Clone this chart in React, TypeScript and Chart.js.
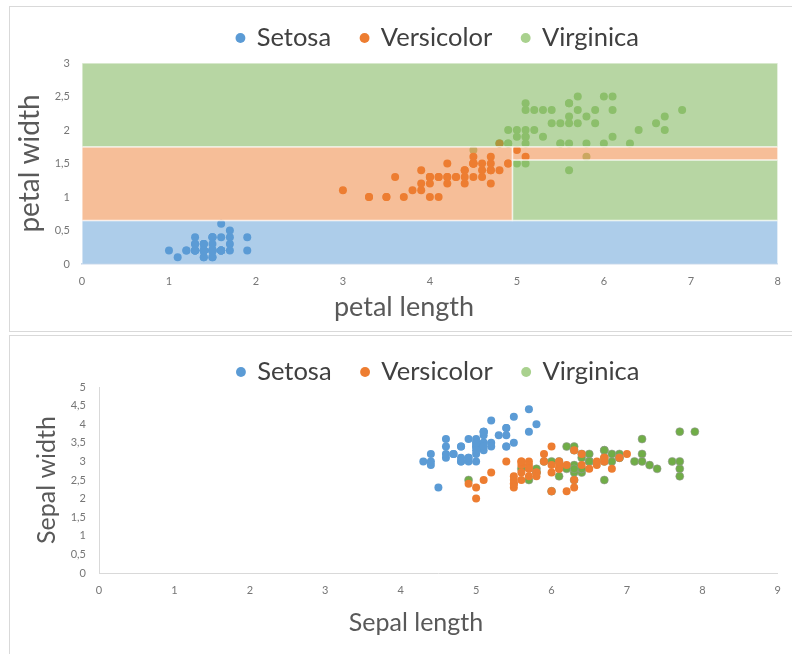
import React, { useEffect, useRef } from "react";
import { Chart, registerables } from "chart.js";
Chart.register(...registerables);

// ---------- data ----------
const speciesNames = ["Setosa", "Versicolor", "Virginica"];

const setosaSepalLength = [5.1,4.9,4.7,4.6,5.0,5.4,4.6,5.0,4.4,4.9,5.4,4.8,4.8,4.3,5.8,5.7,5.4,5.1,5.7,5.1,5.4,5.1,4.6,5.1,4.8,5.0,5.0,5.2,5.2,4.7,4.8,5.4,5.2,5.5,4.9,5.0,5.5,4.9,4.4,5.1,5.0,4.5,4.4,5.0,5.1,4.8,5.1,4.6,5.3,5.0];
const setosaSepalWidth = [3.5,3.0,3.2,3.1,3.6,3.9,3.4,3.4,2.9,3.1,3.7,3.4,3.0,3.0,4.0,4.4,3.9,3.5,3.8,3.8,3.4,3.7,3.6,3.3,3.4,3.0,3.4,3.5,3.4,3.2,3.1,3.4,4.1,4.2,3.1,3.2,3.5,3.6,3.0,3.4,3.5,2.3,3.2,3.5,3.8,3.0,3.8,3.2,3.7,3.3];
const setosaPetalLength = [1.4,1.4,1.3,1.5,1.4,1.7,1.4,1.5,1.4,1.5,1.5,1.6,1.4,1.1,1.2,1.5,1.3,1.4,1.7,1.5,1.7,1.5,1.0,1.7,1.9,1.6,1.6,1.5,1.4,1.6,1.6,1.5,1.5,1.4,1.5,1.2,1.3,1.4,1.3,1.5,1.3,1.3,1.3,1.6,1.9,1.4,1.6,1.4,1.5,1.4];
const setosaPetalWidth = [0.2,0.2,0.2,0.2,0.2,0.4,0.3,0.2,0.2,0.1,0.2,0.2,0.1,0.1,0.2,0.4,0.4,0.3,0.3,0.3,0.2,0.4,0.2,0.5,0.2,0.2,0.4,0.2,0.2,0.2,0.2,0.4,0.1,0.2,0.2,0.2,0.2,0.1,0.2,0.2,0.3,0.3,0.2,0.6,0.4,0.3,0.2,0.2,0.2,0.2];

const versicolorSepalLength = [7.0,6.4,6.9,5.5,6.5,5.7,6.3,4.9,6.6,5.2,5.0,5.9,6.0,6.1,5.6,6.7,5.6,5.8,6.2,5.6,5.9,6.1,6.3,6.1,6.4,6.6,6.8,6.7,6.0,5.7,5.5,5.5,5.8,6.0,5.4,6.0,6.7,6.3,5.6,5.5,5.5,6.1,5.8,5.0,5.6,5.7,5.7,6.2,5.1,5.7];
const versicolorSepalWidth = [3.2,3.2,3.1,2.3,2.8,2.8,3.3,2.4,2.9,2.7,2.0,3.0,2.2,2.9,2.9,3.1,3.0,2.7,2.2,2.5,3.2,2.8,2.5,2.8,2.9,3.0,2.8,3.0,2.9,2.6,2.4,2.4,2.7,2.7,3.0,3.4,3.1,2.3,3.0,2.5,2.6,3.0,2.6,2.3,2.7,3.0,2.9,2.9,2.5,2.8];
const versicolorPetalLength = [4.7,4.5,4.9,4.0,4.6,4.5,4.7,3.3,4.6,3.9,3.5,4.2,4.0,4.7,3.6,4.4,4.5,4.1,4.5,3.9,4.8,4.0,4.9,4.7,4.3,4.4,4.8,5.0,4.5,3.5,3.8,3.7,3.9,5.1,4.5,4.5,4.7,4.4,4.1,4.0,4.4,4.6,4.0,3.3,4.2,4.2,4.2,4.3,3.0,4.1];
const versicolorPetalWidth = [1.4,1.5,1.5,1.3,1.5,1.3,1.6,1.0,1.3,1.4,1.0,1.5,1.0,1.4,1.3,1.4,1.5,1.0,1.5,1.1,1.8,1.3,1.5,1.2,1.3,1.4,1.4,1.7,1.5,1.0,1.1,1.0,1.2,1.6,1.5,1.6,1.5,1.3,1.3,1.3,1.2,1.4,1.2,1.0,1.3,1.2,1.3,1.3,1.1,1.3];

const virginicaSepalLength = [6.3,5.8,7.1,6.3,6.5,7.6,4.9,7.3,6.7,7.2,6.5,6.4,6.8,5.7,5.8,6.4,6.5,7.7,7.7,6.0,6.9,5.6,7.7,6.3,6.7,7.2,6.2,6.1,6.4,7.2,7.4,7.9,6.4,6.3,6.1,7.7,6.3,6.4,6.0,6.9,6.7,6.9,5.8,6.8,6.7,6.7,6.3,6.5,6.2,5.9];
const virginicaSepalWidth = [3.3,2.7,3.0,2.9,3.0,3.0,2.5,2.9,2.5,3.6,3.2,2.7,3.0,2.5,2.8,3.2,3.0,3.8,2.6,2.2,3.2,2.8,2.8,2.7,3.3,3.2,2.8,3.0,2.8,3.0,2.8,3.8,2.8,2.8,2.6,3.0,3.4,3.1,3.0,3.1,3.1,3.1,2.7,3.2,3.3,3.0,2.5,3.0,3.4,3.0];
const virginicaPetalLength = [6.0,5.1,5.9,5.6,5.8,6.6,4.5,6.3,5.8,6.1,5.1,5.3,5.5,5.0,5.1,5.3,5.5,6.7,6.9,5.0,5.7,4.9,6.7,4.9,5.7,6.0,4.8,4.9,5.6,5.8,6.1,6.4,5.6,5.1,5.6,6.1,5.6,5.5,4.8,5.4,5.6,5.1,5.1,5.9,5.7,5.2,5.0,5.2,5.4,5.1];
const virginicaPetalWidth = [2.5,1.9,2.1,1.8,2.2,2.1,1.7,1.8,1.8,2.5,2.0,1.9,2.1,2.0,2.4,2.3,1.8,2.2,2.3,1.5,2.3,2.0,2.0,1.8,2.1,1.8,1.8,1.8,2.1,1.6,1.9,2.0,2.2,1.5,1.4,2.3,2.4,1.8,1.8,2.1,2.4,2.3,1.9,2.3,2.5,2.3,1.9,2.0,2.3,1.8];

// decision regions of the petal chart (data units) and the species each belongs to
const regionX0 = [0, 0, 4.95, 4.95, 0];
const regionX1 = [8, 4.95, 8, 8, 8];
const regionY0 = [0, 0.65, 1.55, 0.65, 1.75];
const regionY1 = [0.65, 1.75, 1.75, 1.55, 3];
const regionSpecies = [0, 1, 1, 2, 2];

const petalXTitle = "petal length";
const petalYTitle = "petal width";
const sepalXTitle = "Sepal length";
const sepalYTitle = "Sepal width";

// ---------- styles ----------
const FONT = "Lato, 'Open Sans', sans-serif";
const speciesColors = ["#5b9bd5", "#ed7d31", "#a9d18e"];
const sepalPointColors = ["#5b9bd5", "#ed7d31", "#70ad47"];
const regionColors = ["rgba(91,155,213,0.5)", "rgba(237,125,49,0.5)", "rgba(112,173,71,0.5)"];
const legendColors = ["#5b9bd5", "#ed7d31", "#a9d18e"];
const LEGEND_SIZE = 25.5;

const pts = (xs: number[], ys: number[]) => xs.map((x, i) => ({ x, y: ys[i] }));
const comma = (v: any) => String(v).replace(".", ",");

const regionPlugin = {
  id: "regions",
  afterDatasetsDraw(chart: any) {
    const { ctx, scales } = chart;
    const xs = scales.x, ys = scales.y;
    ctx.save();
    for (let i = 0; i < regionX0.length; i++) {
      const x0 = xs.getPixelForValue(regionX0[i]);
      const x1 = xs.getPixelForValue(regionX1[i]);
      const y0 = ys.getPixelForValue(regionY0[i]);
      const y1 = ys.getPixelForValue(regionY1[i]);
      ctx.fillStyle = regionColors[regionSpecies[i]];
      ctx.fillRect(x0, y1, x1 - x0, y0 - y1);
      ctx.strokeStyle = "rgba(255,255,255,0.6)";
      ctx.lineWidth = 1.5;
      ctx.strokeRect(x0, y1, x1 - x0, y0 - y1);
    }
    ctx.restore();
  },
};

// x-axis title, centred where the original centres it (not on the plot area)
const xTitlePlugin = (text: string, cx: number, cy: number, size: number) => ({
  id: "xTitle",
  afterDraw(chart: any) {
    const ctx = chart.ctx;
    ctx.save();
    ctx.font = `${size}px ${FONT}`;
    ctx.fillStyle = "#595959";
    ctx.textAlign = "center";
    ctx.textBaseline = "middle";
    ctx.fillText(text, cx, cy);
    ctx.restore();
  },
});

// tweak the legend box: extra height below it and a horizontal shift
const legendAdjust = (gap: number, dx: number) => ({
  id: "legendAdjust",
  beforeLayout(chart: any) {
    const lg = chart.legend;
    if (lg && !lg._gapPatched) {
      const orig = lg.fit;
      lg.fit = function () {
        orig.call(this);
        this.height += gap;
      };
      lg._gapPatched = true;
    }
  },
  afterLayout(chart: any) {
    const lg = chart.legend;
    if (lg) {
      lg.left += dx;
      lg.right += dx;
    }
  },
});

const legendOptions = (colors: string[]) => ({
  position: "top" as const,
  fullSize: false,
  labels: {
    usePointStyle: true,
    pointStyle: "circle",
    boxWidth: 7,
    boxHeight: 7,
    padding: 30,
    color: "#404040",
    font: { family: FONT, size: LEGEND_SIZE },
    generateLabels: (chart: any) => {
      const items = (Chart.defaults.plugins.legend.labels as any).generateLabels(chart);
      items.forEach((it: any, i: number) => {
        it.fillStyle = colors[i];
        it.strokeStyle = colors[i];
        it.lineWidth = 0;
      });
      return items;
    },
  },
});

const tickFont = { family: FONT, size: 11 };
const tickColor = "#767676";
const titleColor = "#595959";

export default function App() {
  const topRef = useRef<HTMLCanvasElement>(null);
  const botRef = useRef<HTMLCanvasElement>(null);

  useEffect(() => {
    const top = new Chart(topRef.current!, {
      type: "scatter",
      data: {
        datasets: [
          { label: speciesNames[0], data: pts(setosaPetalLength, setosaPetalWidth), backgroundColor: speciesColors[0], pointRadius: 4, pointBorderWidth: 0 },
          { label: speciesNames[1], data: pts(versicolorPetalLength, versicolorPetalWidth), backgroundColor: speciesColors[1], pointRadius: 4, pointBorderWidth: 0 },
          { label: speciesNames[2], data: pts(virginicaPetalLength, virginicaPetalWidth), backgroundColor: speciesColors[2], pointRadius: 4, pointBorderWidth: 0 },
        ],
      },
      options: {
        responsive: false,
        animation: false,
        layout: { padding: { left: 0, right: 9, top: -11.75, bottom: 0 } },
        plugins: { legend: legendOptions(legendColors) as any, tooltip: { enabled: false } },
        scales: {
          x: {
            type: "linear",
            min: 0,
            max: 8,
            z: 1,
            ticks: { stepSize: 1, padding: 11, font: tickFont, color: tickColor },
            grid: { display: false, drawTicks: false },
            border: { display: true, color: "#9fbcdc", width: 1.5 },
            title: { display: false },
            afterFit: (s: any) => { s.height = 66; },
          },
          y: {
            min: 0,
            max: 3,
            ticks: { stepSize: 0.5, padding: 12, font: tickFont, color: tickColor, callback: comma },
            grid: { display: false, drawTicks: false },
            border: { display: false },
            title: { display: true, text: petalYTitle, color: titleColor, font: { family: FONT, size: 28 }, padding: { top: 3, bottom: 0 } },
            afterFit: (s: any) => { s.width = 72; },
          },
        },
      },
      plugins: [regionPlugin, legendAdjust(2.25, 8), xTitlePlugin(petalXTitle, 394, 300, 27)],
    });

    const bot = new Chart(botRef.current!, {
      type: "scatter",
      data: {
        datasets: [
          { label: speciesNames[0], data: pts(setosaSepalLength, setosaSepalWidth), backgroundColor: sepalPointColors[0], pointRadius: 4, pointBorderWidth: 0 },
          { label: speciesNames[1], data: pts(versicolorSepalLength, versicolorSepalWidth), backgroundColor: sepalPointColors[1], pointRadius: 4, pointBorderWidth: 0 },
          { label: speciesNames[2], data: pts(virginicaSepalLength, virginicaSepalWidth), backgroundColor: sepalPointColors[2], pointRadius: 4, pointBorderWidth: 1, pointBorderColor: "rgba(150,150,150,0.55)" },
        ],
      },
      options: {
        responsive: false,
        animation: false,
        layout: { padding: { left: 0, right: 9, top: -6.75, bottom: 0 } },
        plugins: { legend: legendOptions(legendColors) as any, tooltip: { enabled: false } },
        scales: {
          x: {
            type: "linear",
            min: 0,
            max: 9,
            ticks: { stepSize: 1, padding: 11, font: tickFont, color: tickColor },
            grid: { display: false, drawTicks: false },
            border: { display: true, color: "#d9d9d9", width: 1 },
            title: { display: false },
            afterFit: (s: any) => { s.height = 81; },
          },
          y: {
            min: 0,
            max: 5,
            ticks: { stepSize: 0.5, padding: 13, font: tickFont, color: tickColor, callback: comma },
            grid: { display: false, drawTicks: false },
            border: { display: true, color: "#d9d9d9", width: 1 },
            title: { display: true, text: sepalYTitle, color: titleColor, font: { family: FONT, size: 25 }, padding: { top: 22, bottom: 0 } },
            afterFit: (s: any) => { s.width = 89; },
          },
        },
      },
      plugins: [legendAdjust(-7.75, 0), xTitlePlugin(sepalXTitle, 406, 287, 25)],
    });

    return () => {
      top.destroy();
      bot.destroy();
    };
  }, []);

  return (
    <div style={{ position: "absolute", left: 0, top: 0, width: 792, height: 654, overflow: "hidden", background: "#fff" }}>
      <div style={{ position: "absolute", left: 9, top: 6, width: 800, height: 324, border: "1px solid #d9d9d9" }} />
      <div style={{ position: "absolute", left: 9, top: 335, width: 800, height: 340, border: "1px solid #d9d9d9" }} />
      <canvas ref={topRef} width={782} height={323} style={{ position: "absolute", left: 10, top: 7 }} />
      <canvas ref={botRef} width={782} height={318} style={{ position: "absolute", left: 10, top: 336 }} />
    </div>
  );
}
